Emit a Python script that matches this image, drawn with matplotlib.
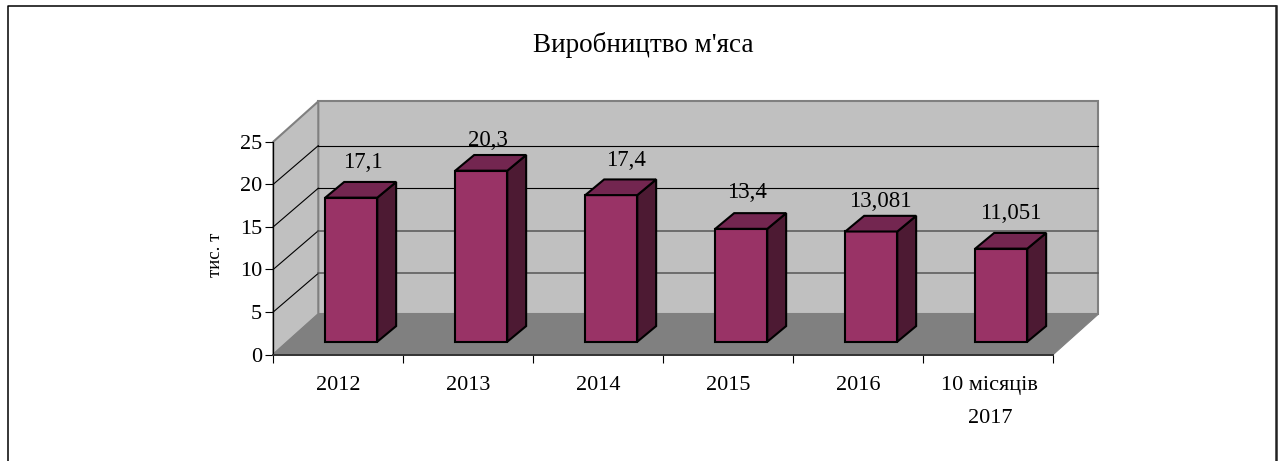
#!/usr/bin/env python3
'''Meat production, fake 3D column chart'''

import matplotlib
matplotlib.use('Agg')
import matplotlib.pyplot as plt
from matplotlib.lines import Line2D
from matplotlib.patches import Polygon

plt.rcParams['font.family'] = ['Liberation Serif', 'DejaVu Serif']

categories = ['2012', '2013', '2014', '2015', '2016', '10 місяців\n2017']
values = [17.1, 20.3, 17.4, 13.4, 13.081, 11.051]
value_labels = ['17,1', '20,3', '17,4', '13,4', '13,081', '11,051']
y_ticks = [0, 5, 10, 15, 20, 25]

W, H = 1283, 461
PX_X = 130  # px per category
PX_Y = 8.51  # px per y unit
# oblique depth of the box, in data units
DX = 45 / PX_X
DY = 40.3 / PX_Y
GRID_DY = 38.6 / PX_Y

fig = plt.figure(figsize=(W / 100, H / 100), dpi=100)
# frame around the whole chart, open at the bottom of the image
fx = lambda p: p / W
fy = lambda p: 1 - p / H
fig.add_artist(Line2D([fx(7.5), fx(7.5), fx(1276)], [fy(H + 5), fy(6.5), fy(6.5)], color='black', lw=1.1))
fig.add_artist(Line2D([fx(1276), fx(1276)], [fy(6.5), fy(H + 5)], color='#222222', lw=1.8))

ax = fig.add_axes([273.3 / W, 1 - 354.5 / H, 780 / W, 212.8 / H])
ax.set_xlim(0, len(categories))
ax.set_ylim(0, 25)
ax.patch.set_visible(False)
for s in ['top', 'right', 'bottom']:
    ax.spines[s].set_visible(False)
ax.spines['left'].set_linewidth(0.8)

n = len(categories)
wall_edge = '#808080'
# back wall, side wall, floor
ax.add_patch(Polygon([(DX, DY), (n + DX, DY), (n + DX, 25 + DY), (DX, 25 + DY)], fc='#c0c0c0',
                     ec=wall_edge, lw=1.5, clip_on=False, zorder=1))
ax.add_patch(Polygon([(0, 0), (DX, DY), (DX, 25 + DY), (0, 25)], fc='#c0c0c0',
                     ec=wall_edge, lw=1.5, clip_on=False, zorder=1))
ax.add_patch(Polygon([(0, 0), (n, 0), (n + DX, DY), (DX, DY)], fc='#808080',
                     ec='#808080', lw=0.8, clip_on=False, zorder=2))
# gridlines go along the side wall and the back wall
for t in y_ticks[1:-1]:
    ax.plot([0, DX], [t, t + GRID_DY], color='black', lw=0.8, clip_on=False, zorder=2)
    ax.plot([DX, n + DX], [t + GRID_DY, t + GRID_DY], color='black' if t > 10 else '#555555',
            lw=0.8 if t > 10 else 1.1, clip_on=False, zorder=2)
ax.plot([0, n], [0, 0], color='#333333', lw=1.4, clip_on=False, zorder=3)

ax.set_yticks(y_ticks)
ax.set_xticks(range(n + 1))
ax.set_xticklabels([])
ax.tick_params(axis='y', length=6, width=0.8, labelsize=16, pad=2)
ax.tick_params(axis='x', length=6, width=0.8)

# bars sit part way back on the floor
bar_w = 0.4
bar_scale = 0.99
base_dx, base_dy = 0.10, 1.50
top_dx, top_dy = 0.145, 1.84
face = '#993366'
top = '#732650'
side = '#4d1a33'
# hand placed labels, the original chart nudges each one (px)
label_shift = [(-5, 5), (-10, 10), (-2, 5), (-11, 3), (-8, 10), (-7, 5)]
for i, v in enumerate(values):
    x0 = i + 0.5 - bar_w / 2 + base_dx
    x1 = x0 + bar_w
    y0 = base_dy
    y1 = base_dy + v * bar_scale
    ax.add_patch(Polygon([(x0, y0), (x1, y0), (x1, y1), (x0, y1)], fc=face, ec='black', lw=1.5,
                         clip_on=False, zorder=5, joinstyle='miter'))
    ax.add_patch(Polygon([(x1, y0), (x1 + top_dx, y0 + top_dy), (x1 + top_dx, y1 + top_dy), (x1, y1)],
                         fc=side, ec='black', lw=1.5, clip_on=False, zorder=5, joinstyle='miter'))
    ax.add_patch(Polygon([(x0, y1), (x1, y1), (x1 + top_dx, y1 + top_dy), (x0 + top_dx, y1 + top_dy)],
                         fc=top, ec='black', lw=1.5, clip_on=False, zorder=5, joinstyle='miter'))
    sx, sy = label_shift[i]
    ax.text((x0 + x1) / 2 + 0.13 + sx / PX_X, y1 + top_dy + 1.6 - sy / PX_Y, value_labels[i],
            ha='center', va='bottom', fontsize=16.5, zorder=6)
    ax.text(i + 0.5 + (1.5 / PX_X if i == 5 else 0), -2.55, categories[i], ha='center', va='top',
            fontsize=16, linespacing=2.0)

ax.text(-58.3 / PX_X, (354.5 - 255) / PX_Y, 'тис. т', rotation=90, ha='center', va='center', fontsize=13.5)
fig.text(643 / W, 1 - 51.7 / H, "Виробництво м'яса", ha='center', va='baseline', fontsize=19.5)

fig.savefig('out.png', dpi=100)
